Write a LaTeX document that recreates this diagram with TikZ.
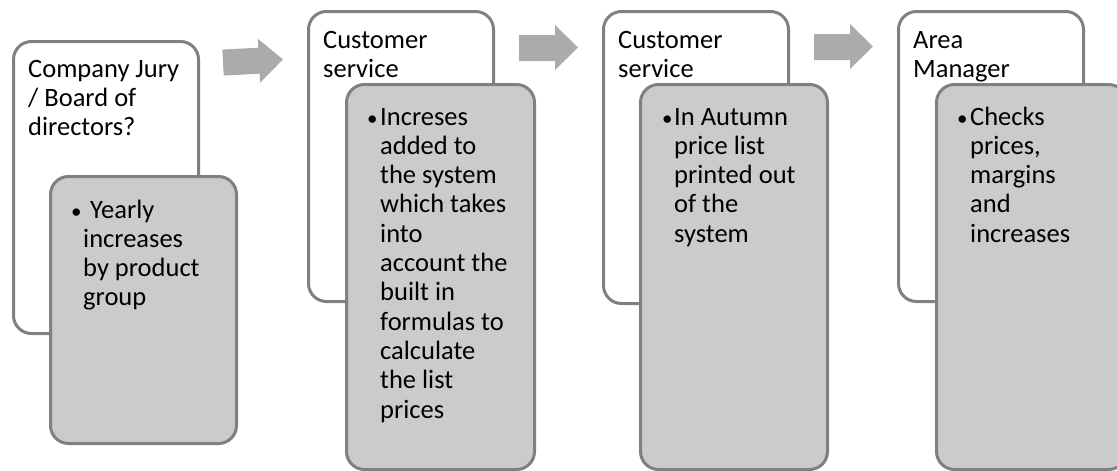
\documentclass[tikz,border=0pt]{standalone}
\usepackage{fontspec}
\setmainfont{Carlito}
\usetikzlibrary{calc}
\definecolor{edgegray}{HTML}{808080}
\definecolor{boxgray}{HTML}{CBCBCB}
\definecolor{arrowgray}{HTML}{ABABAB}
\newcommand{\toplines}[1]{\parbox[t]{200pt}{\raggedright #1}}
\begin{document}
\begin{tikzpicture}[x=1pt,y=-1pt,
  wbox/.style={draw=edgegray, line width=3pt, fill=white, rounded corners=18pt, inner sep=0pt, anchor=north west},
  gbox/.style={wbox, fill=boxgray},
  txt/.style={font=\fontsize{26.5}{29.3}\selectfont, inner sep=0pt, anchor=base west},
  bullet/.style={font=\fontsize{21}{24}\selectfont, inner sep=0pt, anchor=base west},
  blockarrow/.style={fill=arrowgray, draw=none}]
\useasboundingbox (0,0) rectangle (1117,471);
\clip (0,0) rectangle (1117,471);

% stage 1
\node[wbox, minimum width=185pt, minimum height=292pt] (w1) at (12,40) {};
\node[txt] (t1) at (28,77) {\toplines{Company Jury\\/ Board of\\directors?}};
\node[gbox, minimum width=186pt, minimum height=267pt] (g1) at (49,175) {};
\node[bullet] (b1) at (71,218) {•};
\node[txt] (d1) at (83,218) {\toplines{\hspace*{7pt}Yearly\\increases\\by product\\group}};

% arrow 1 (slightly tilted)
\begin{scope}[shift={(253,61)}, rotate=3]
\fill[blockarrow] (-30,-13) -- (6,-13) -- (6,-22) -- (30,0) -- (6,22) -- (6,13) -- (-30,13) -- cycle;
\end{scope}

% stage 2
\node[wbox, minimum width=185pt, minimum height=290pt] (w2) at (307,10) {};
\node[txt] (t2) at (323,48) {\toplines{Customer\\service}};
\node[gbox, minimum width=188pt, minimum height=385pt] (g2) at (345,83) {};
\node[bullet] (b2) at (367,125) {•};
\node[txt] (d2) at (380,125) {\toplines{Increses\\added to\\the system\\which takes\\into\\account the\\built in\\formulas to\\calculate\\the list\\prices}};

% arrow 2
\fill[blockarrow] (519,35) -- (555,35) -- (555,25) -- (578,47.5) -- (555,70) -- (555,61) -- (519,61) -- cycle;

% stage 3
\node[wbox, minimum width=185pt, minimum height=292pt] (w3) at (602,10) {};
\node[txt] (t3) at (618,48) {\toplines{Customer\\service}};
\node[gbox, minimum width=187pt, minimum height=385pt] (g3) at (639,83) {};
\node[bullet] (b3) at (662,125) {•};
\node[txt] (d3) at (674,125) {\toplines{In Autumn\\price list\\printed out\\of the\\system}};

% arrow 3
\fill[blockarrow] (814,34) -- (850,34) -- (850,24) -- (873,46.5) -- (850,69) -- (850,60) -- (814,60) -- cycle;

% stage 4
\node[wbox, minimum width=185pt, minimum height=290pt] (w4) at (897,10) {};
\node[txt] (t4) at (913,48) {\toplines{Area\\Manager}};
\node[gbox, minimum width=190pt, minimum height=385pt] (g4) at (935,83) {};
\node[bullet] (b4) at (957,125) {•};
\node[txt] (d4) at (970,125) {\toplines{Checks\\prices,\\margins\\and\\increases}};
\end{tikzpicture}
\end{document}
